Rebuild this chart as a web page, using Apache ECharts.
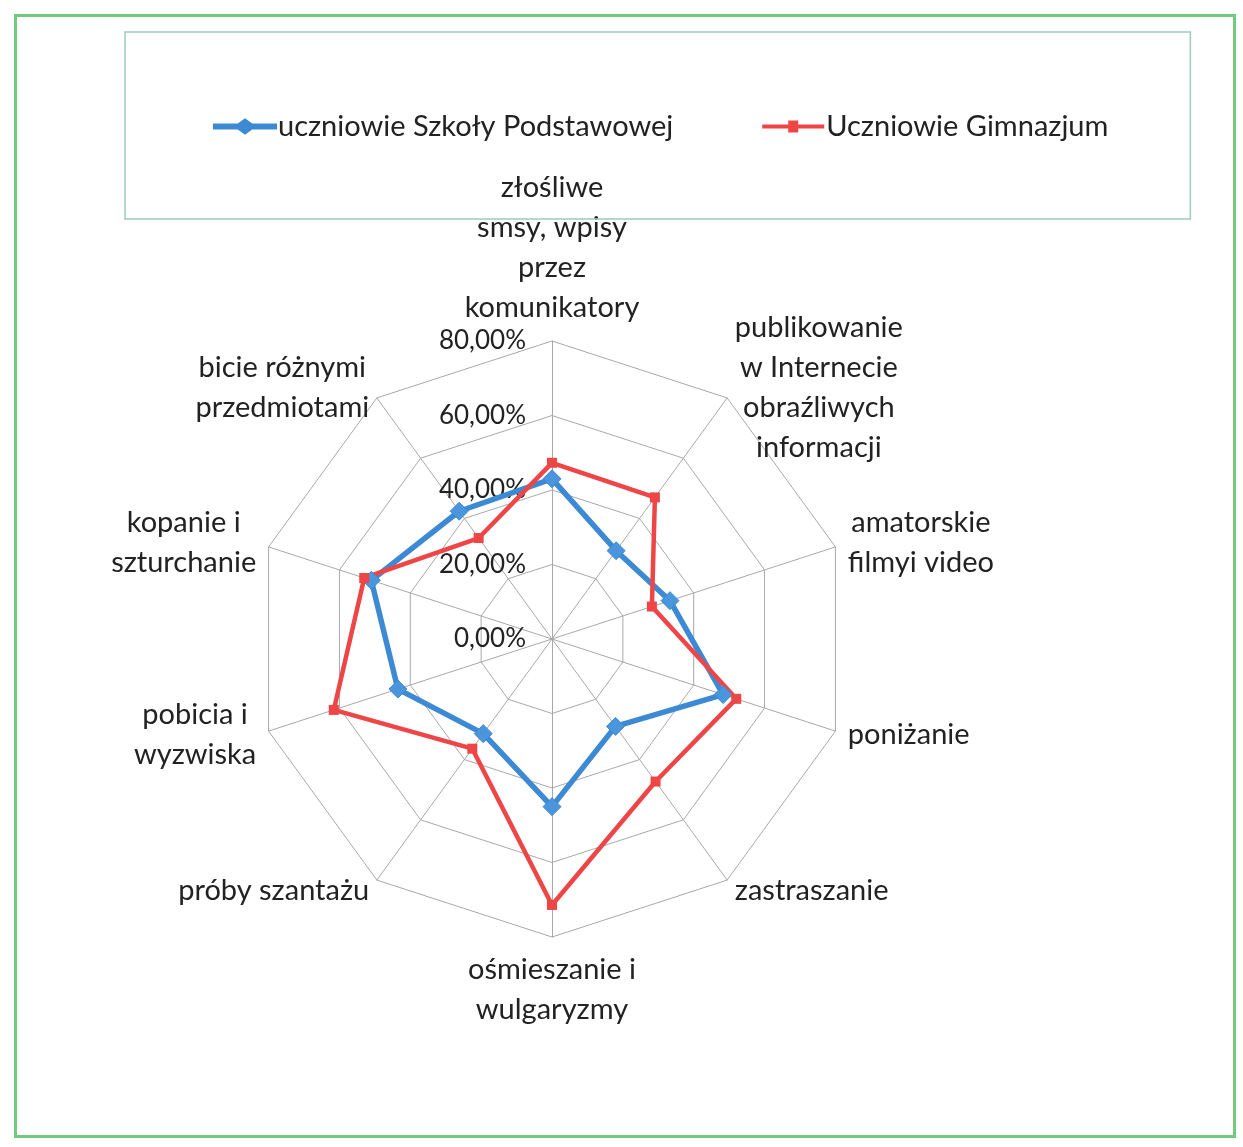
<!DOCTYPE html>
<html>
<head>
<meta charset="utf-8">
<script src="https://cdn.jsdelivr.net/npm/echarts@6/dist/echarts.min.js"></script>
<style>
  html, body { margin: 0; padding: 0; background: #fff; }
  #frame { position: absolute; left: 14px; top: 14px; width: 1222px; height: 1124px; border: 3px solid #74c981; box-sizing: border-box; }
  #chart { position: absolute; left: 0; top: 0; width: 1243px; height: 1147px; }
</style>
</head>
<body>
<div id="frame"></div>
<div id="chart"></div>
<script>
// ---- data ----
const categories = [
  'złośliwe\nsmsy, wpisy\nprzez\nkomunikatory',
  'publikowanie\nw Internecie\nobraźliwych\ninformacji',
  'amatorskie\nfilmyi video',
  'poniżanie',
  'zastraszanie',
  'ośmieszanie i\nwulgaryzmy',
  'próby szantażu',
  'pobicia i\nwyzwiska',
  'kopanie i\nszturchanie',
  'bicie różnymi\nprzedmiotami'
];
const seriesNames = ['uczniowie Szkoły Podstawowej', 'Uczniowie Gimnazjum'];
const primarySchool = [43, 29.3, 33.3, 48.3, 29, 45, 31.4, 43.5, 51, 42.4];
const gymnasium = [47.3, 47, 28.2, 52, 47.3, 71.4, 36.4, 61.6, 53, 33.5];
const axisMin = 0;
const axisMax = 80;
const axisSplits = 4;

// ---- build ----
const FONT = 'Lato, "Open Sans", sans-serif';
// ECharts radar goes counter-clockwise; reorder so categories run clockwise from the top
const order = categories.map((_, i) => (categories.length - i) % categories.length);
const fmtPct = v => v.toFixed(2).replace('.', ',') + '%';

const indicators = order.map((k, i) => {
  const ind = { name: categories[k], min: axisMin, max: axisMax };
  if (i === 0) {
    ind.axisLabel = {
      show: true,
      formatter: fmtPct,
      fontSize: 26,
      fontFamily: FONT,
      color: '#222',
      margin: 26
    };
  }
  return ind;
});

const blueIcon = 'path://M0,5L24,5L31,0L38,5L62,5L62,9L38,9L31,14L24,9L0,9Z';
const redIcon = 'path://M0,5L26,5L26,1L36,1L36,5L62,5L62,9L36,9L36,13L26,13L26,9L0,9Z';

const chart = echarts.init(document.getElementById('chart'), null, { renderer: 'canvas' });
chart.setOption({
  backgroundColor: 'transparent',
  animation: false,
  legend: {
    left: 125,
    top: 32,
    padding: [80, 82, 78, 88],
    itemGap: 89,
    itemWidth: 62,
    itemHeight: 14,
    borderColor: '#9ccbbb',
    borderWidth: 1.5,
    textStyle: { fontSize: 29, fontFamily: FONT, color: '#222', padding: [0, 0, 0, -3] },
    data: [
      { name: seriesNames[0], icon: blueIcon, itemStyle: { color: '#3d8ad4' } },
      { name: seriesNames[1], icon: redIcon, itemStyle: { color: '#ee4646' } }
    ]
  },
  radar: {
    center: [552, 639],
    radius: 298,
    startAngle: 90,
    splitNumber: axisSplits,
    shape: 'polygon',
    nameGap: 13,
    axisName: {
      color: '#222',
      fontSize: 29,
      fontFamily: FONT,
      formatter: name => name.split('\n').map(l => '{c|' + l + '}').join('\n'),
      rich: {
        c: { align: 'center', fontSize: 29, lineHeight: 40, fontFamily: FONT, color: '#222' }
      }
    },
    axisLine: { lineStyle: { color: '#a8a8a8', width: 1 } },
    splitLine: { lineStyle: { color: '#a8a8a8', width: 1 } },
    splitArea: { show: false },
    axisTick: { show: false },
    axisLabel: { show: false },
    indicator: indicators
  },
  series: [{
    type: 'radar',
    data: [
      {
        name: seriesNames[0],
        value: order.map(k => primarySchool[k]),
        symbol: 'diamond',
        symbolSize: 18,
        lineStyle: { color: '#3d8ad4', width: 5.5 },
        itemStyle: { color: '#4b95dc', borderColor: '#3d8ad4', borderWidth: 1 }
      },
      {
        name: seriesNames[1],
        value: order.map(k => gymnasium[k]),
        symbol: 'rect',
        symbolSize: 10,
        lineStyle: { color: '#ee4646', width: 4.5 },
        itemStyle: { color: '#ee4646' }
      }
    ]
  }]
});
</script>
</body>
</html>
